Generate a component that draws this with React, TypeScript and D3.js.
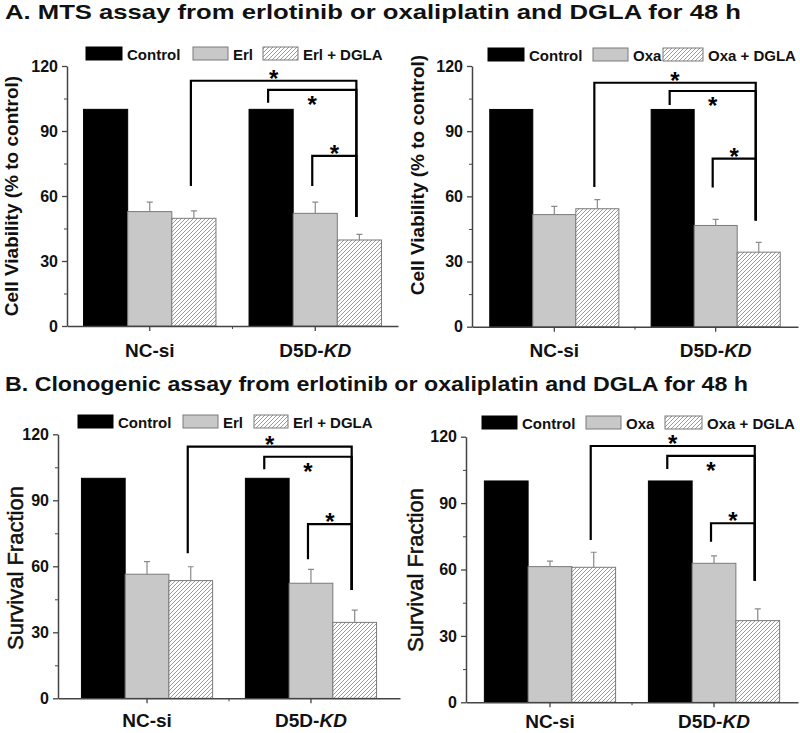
import React, { useRef, useEffect } from "react";
import * as d3 from "d3";

// categories and axis ticks
const groups = ["NC-si", "D5D-KD"];
const yTicks = [0, 30, 60, 90, 120];
const yMinorTicks = [15, 45, 75, 105];

const erlSeries = ["Control", "Erl", "Erl + DGLA"];
const oxaSeries = ["Control", "Oxa", "Oxa + DGLA"];

// means (NC-si, D5D-KD) and upper error bars
const control = [100, 100];
const controlSd = [0, 0];

const mtsErl = [52.8, 52.0];
const mtsErlSd = [4.4, 5.2];
const mtsErlDgla = [49.7, 39.7];
const mtsErlDglaSd = [3.4, 2.6];

const mtsOxa = [51.6, 46.6];
const mtsOxaSd = [3.8, 2.8];
const mtsOxaDgla = [54.3, 34.3];
const mtsOxaDglaSd = [4.2, 4.5];

const clonoErl = [56.4, 52.3];
const clonoErlSd = [5.7, 6.3];
const clonoErlDgla = [53.5, 34.5];
const clonoErlDglaSd = [6.3, 5.6];

const clonoOxa = [61.3, 62.8];
const clonoOxaSd = [2.5, 3.4];
const clonoOxaDgla = [61.0, 36.9];
const clonoOxaDglaSd = [6.8, 5.3];

// significance brackets: from [group, series] to [group, series], line level, leg ends
const mtsErlBrackets = [
  { from: [0, 2], to: [1, 2], level: 113.2, fromEnd: 64.6, toEnd: 50.3, star: "above" },
  { from: [1, 0], to: [1, 2], level: 109.0, fromEnd: 103.0, toEnd: 50.3, star: "below" },
  { from: [1, 1], to: [1, 2], level: 78.5, fromEnd: 64.6, toEnd: 50.3, star: "above" },
];
const mtsOxaBrackets = [
  { from: [0, 2], to: [1, 2], level: 112.3, fromEnd: 64.3, toEnd: 48.9, star: "above" },
  { from: [1, 0], to: [1, 2], level: 108.5, fromEnd: 102.0, toEnd: 48.9, star: "below" },
  { from: [1, 1], to: [1, 2], level: 77.4, fromEnd: 64.1, toEnd: 48.9, star: "above" },
];
const clonoErlBrackets = [
  { from: [0, 2], to: [1, 2], level: 114.4, fromEnd: 65.9, toEnd: 49.2, star: "above" },
  { from: [1, 0], to: [1, 2], level: 109.8, fromEnd: 104.1, toEnd: 49.2, star: "below" },
  { from: [1, 1], to: [1, 2], level: 79.2, fromEnd: 63.2, toEnd: 49.2, star: "above" },
];
const clonoOxaBrackets = [
  { from: [0, 2], to: [1, 2], level: 115.8, fromEnd: 73.3, toEnd: 54.9, star: "above" },
  { from: [1, 0], to: [1, 2], level: 111.3, fromEnd: 105.4, toEnd: 54.9, star: "below" },
  { from: [1, 1], to: [1, 2], level: 80.9, fromEnd: 72.5, toEnd: 54.9, star: "above" },
];

const titleA = "A. MTS assay from erlotinib or oxaliplatin and DGLA for 48 h";
const titleB = "B. Clonogenic assay from erlotinib or oxaliplatin and DGLA for 48 h";

const FONT = "'Liberation Sans', Arial, sans-serif";
const fills = ["#000", "#c8c8c8", "url(#hatch)"];
const strokes = ["#000", "#7a7a7a", "#7a7a7a"];

const panels = [
  {
    x0: 67, x1: 398, po: 0.1, yBottom: 326, yTop: 66,
    series: erlSeries,
    means: [control, mtsErl, mtsErlDgla],
    sds: [controlSd, mtsErlSd, mtsErlDglaSd],
    brackets: mtsErlBrackets,
    yLabel: "Cell Viability (% to control)", yLabelX: 18, yLabelY: 196, yLabelSize: 19, yLabelWeight: "bold",
    xLabelY: 357, legendX: [86, 193, 263], legendW: [36, 35, 35], legendY: 47,
  },
  {
    x0: 472, x1: 798, po: 0.11, yBottom: 326.7, yTop: 66,
    series: oxaSeries,
    means: [control, mtsOxa, mtsOxaDgla],
    sds: [controlSd, mtsOxaSd, mtsOxaDglaSd],
    brackets: mtsOxaBrackets,
    yLabel: "Cell Viability (% to control)", yLabelX: 424, yLabelY: 175, yLabelSize: 19, yLabelWeight: "bold",
    xLabelY: 357, legendX: [488, 593, 663], legendW: [36, 35, 40], legendY: 48,
  },
  {
    x0: 58, x1: 400, po: 0.143, yBottom: 698.3, yTop: 434.3,
    series: erlSeries,
    means: [control, clonoErl, clonoErlDgla],
    sds: [controlSd, clonoErlSd, clonoErlDglaSd],
    brackets: clonoErlBrackets,
    yLabel: "Survival Fraction", yLabelX: 23, yLabelY: 568, yLabelSize: 22, yLabelWeight: "normal",
    xLabelY: 727, legendX: [78, 183, 254], legendW: [35, 35, 34], legendY: 415,
  },
  {
    x0: 466, x1: 798, po: 0.112, yBottom: 702.3, yTop: 436.7,
    series: oxaSeries,
    means: [control, clonoOxa, clonoOxaDgla],
    sds: [controlSd, clonoOxaSd, clonoOxaDglaSd],
    brackets: clonoOxaBrackets,
    yLabel: "Survival Fraction", yLabelX: 423, yLabelY: 570, yLabelSize: 22, yLabelWeight: "normal",
    xLabelY: 728, legendX: [482, 586, 665], legendW: [35, 35, 37], legendY: 416,
  },
];

function drawPanel(svg, p) {
  const g = svg.append("g");
  const x = d3.scaleBand().domain(groups).range([p.x0, p.x1]).paddingInner(0.2).paddingOuter(p.po);
  const xs = d3.scaleBand().domain(d3.range(3)).range([0, x.bandwidth()]);
  const y = d3.scaleLinear().domain([0, 120]).range([p.yBottom, p.yTop]);
  const cx = (gi, s) => x(groups[gi]) + xs(s) + xs.bandwidth() / 2;

  // bars
  p.means.forEach((vals, s) => {
    vals.forEach((v, gi) => {
      g.append("rect")
        .attr("x", x(groups[gi]) + xs(s))
        .attr("y", y(v))
        .attr("width", xs.bandwidth())
        .attr("height", y(0) - y(v))
        .attr("fill", fills[s])
        .attr("stroke", strokes[s])
        .attr("stroke-width", 1);
    });
  });

  // error bars (upper only)
  p.sds.forEach((errs, s) => {
    errs.forEach((e, gi) => {
      if (!e) return;
      const v = p.means[s][gi];
      const c = cx(gi, s);
      g.append("path")
        .attr("d", `M${c},${y(v)}V${y(v + e)}M${c - 3},${y(v + e)}H${c + 3}`)
        .attr("stroke", "#8a8a8a")
        .attr("stroke-width", 1.2)
        .attr("fill", "none");
    });
  });

  // axes
  const axisStyle = (sel) =>
    sel
      .call((a) => a.selectAll("line").attr("stroke", "#444").attr("stroke-width", 1.3))
      .call((a) => a.select(".domain").attr("stroke", "#444").attr("stroke-width", 1.5));

  g.append("g")
    .attr("transform", `translate(${p.x0},0)`)
    .call(d3.axisLeft(y).tickValues(yTicks).tickSize(5).tickSizeOuter(0).tickPadding(4))
    .call(axisStyle)
    .call((a) =>
      a.selectAll("text")
        .attr("font-family", FONT)
        .attr("font-weight", "bold")
        .attr("font-size", 16)
        .attr("fill", "#111")
    );

  g.append("g")
    .attr("transform", `translate(${p.x0},0)`)
    .call(d3.axisLeft(y).tickValues(yMinorTicks).tickSize(3).tickFormat(() => ""))
    .call((a) => a.select(".domain").remove())
    .call((a) => a.selectAll("line").attr("stroke", "#444"));

  g.append("g")
    .attr("transform", `translate(0,${p.yBottom})`)
    .call(d3.axisBottom(x).tickSize(5).tickSizeOuter(0).tickFormat(() => ""))
    .call(axisStyle);

  const mid = (x(groups[0]) + x(groups[1]) + x.bandwidth()) / 2;
  g.append("line")
    .attr("x1", mid).attr("x2", mid)
    .attr("y1", p.yBottom).attr("y2", p.yBottom + 3)
    .attr("stroke", "#444");

  // category labels
  groups.forEach((name) => {
    const t = g.append("text")
      .attr("x", x(name) + x.bandwidth() / 2)
      .attr("y", p.xLabelY)
      .attr("text-anchor", "middle")
      .attr("font-family", FONT)
      .attr("font-weight", "bold")
      .attr("font-size", 19)
      .attr("fill", "#111");
    if (name.endsWith("-KD")) {
      t.append("tspan").text("D5D-");
      t.append("tspan").attr("font-style", "italic").text("KD");
    } else {
      t.text(name);
    }
  });

  // y label
  g.append("text")
    .attr("transform", `translate(${p.yLabelX},${p.yLabelY}) rotate(-90)`)
    .attr("text-anchor", "middle")
    .attr("font-family", FONT)
    .attr("font-weight", p.yLabelWeight)
    .attr("font-size", p.yLabelSize)
    .attr("fill", "#111")
    .attr("stroke", p.yLabelWeight === "normal" ? "#111" : "none")
    .attr("stroke-width", 0.5)
    .text(p.yLabel);

  // legend
  p.series.forEach((name, s) => {
    const lx = p.legendX[s];
    g.append("rect")
      .attr("x", lx).attr("y", p.legendY)
      .attr("width", p.legendW[s]).attr("height", 13)
      .attr("fill", fills[s]).attr("stroke", strokes[s]);
    g.append("text")
      .attr("x", lx + p.legendW[s] + 5)
      .attr("y", p.legendY + 12.5)
      .attr("font-family", FONT)
      .attr("font-weight", "bold")
      .attr("font-size", 15)
      .attr("fill", "#111")
      .text(name);
  });

  // significance brackets
  p.brackets.forEach((b) => {
    const xa = cx(b.from[0], b.from[1]) - 3;
    const xb = cx(b.to[0], b.to[1]) - 3;
    const ly = y(b.level);
    g.append("path")
      .attr("d", `M${xa},${y(b.fromEnd)}V${ly}H${xb}V${y(b.toEnd)}`)
      .attr("fill", "none")
      .attr("stroke", "#000")
      .attr("stroke-width", 2.2);
    const starCenter = b.star === "above" ? ly - 7 : ly + 10;
    g.append("text")
      .attr("x", (xa + xb) / 2)
      .attr("y", starCenter + 13)
      .attr("text-anchor", "middle")
      .attr("font-family", FONT)
      .attr("font-weight", "bold")
      .attr("font-size", 24)
      .attr("fill", "#000")
      .text("*");
  });
}

export default function App() {
  const svgRef = useRef(null);

  useEffect(() => {
    const svg = d3.select(svgRef.current);
    svg.selectAll("*").remove();

    const defs = svg.append("defs");
    const pat = defs.append("pattern")
      .attr("id", "hatch")
      .attr("patternUnits", "userSpaceOnUse")
      .attr("width", 4)
      .attr("height", 4);
    pat.append("rect").attr("width", 4).attr("height", 4).attr("fill", "#fff");
    pat.append("path")
      .attr("d", "M-1,1l2,-2M0,4l4,-4M3,5l2,-2")
      .attr("stroke", "#9a9a9a")
      .attr("stroke-width", 1);

    svg.append("rect").attr("width", 800).attr("height", 733).attr("fill", "#fff");

    // titles (stretched to the width they take in the figure)
    [
      { text: titleA, y: 19, width: 736 },
      { text: titleB, y: 391, width: 743 },
    ].forEach((t) => {
      svg.append("text")
        .attr("x", 5)
        .attr("y", t.y)
        .attr("font-family", FONT)
        .attr("font-weight", "bold")
        .attr("font-size", 21)
        .attr("textLength", t.width)
        .attr("lengthAdjust", "spacingAndGlyphs")
        .attr("fill", "#111")
        .text(t.text);
    });

    panels.forEach((p) => drawPanel(svg, p));
  }, []);

  return (
    <svg
      ref={svgRef}
      width={800}
      height={733}
      style={{ position: "absolute", left: 0, top: 0, display: "block" }}
    />
  );
}
